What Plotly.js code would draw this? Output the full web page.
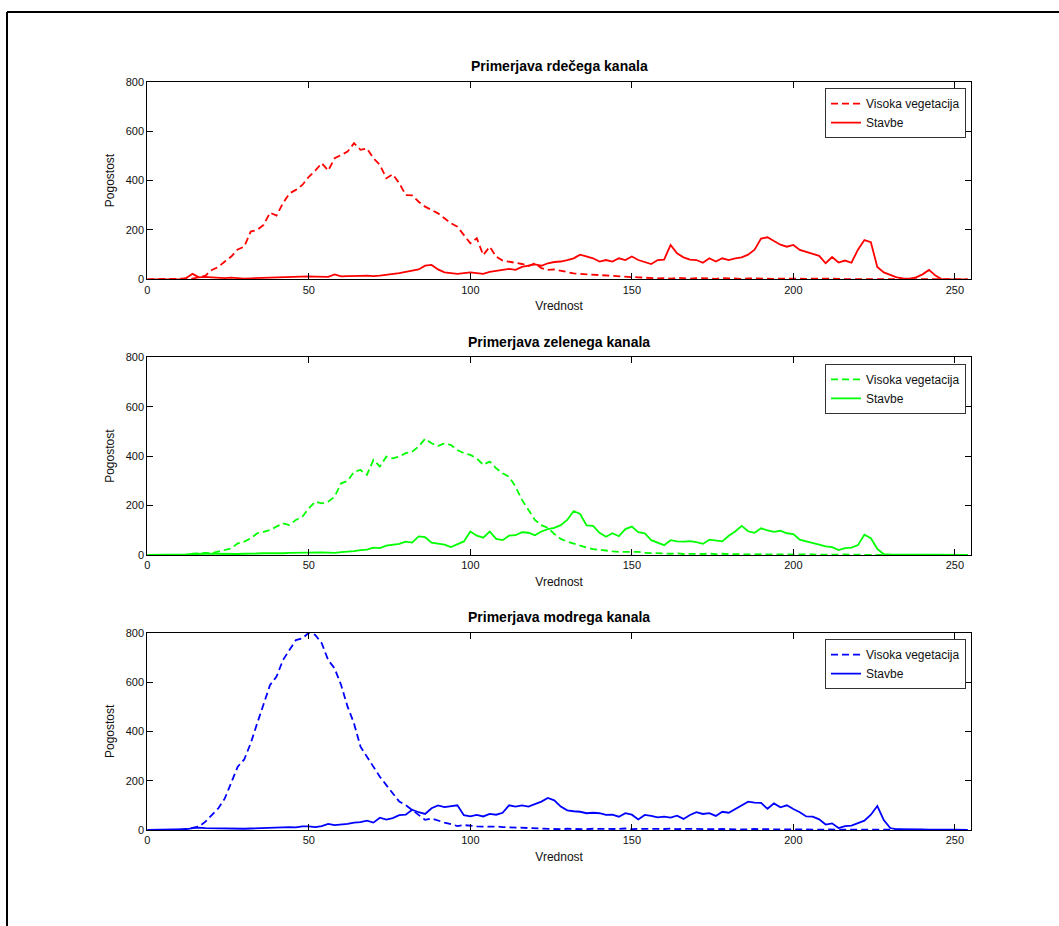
<!DOCTYPE html>
<html>
<head>
<meta charset="utf-8">
<script src="https://cdn.plot.ly/plotly-3.0.1.min.js"></script>
<style>
  html, body { margin: 0; padding: 0; background: #fff; }
  #chart { width: 1059px; height: 926px; }
</style>
</head>
<body>
<div id="chart"></div>
<script>
// Vrednost (pixel value) categories, step 2
const vrednost = [
  0,2,4,6,8,10,12,14,16,18, 20,22,24,26,28,30,32,34,36,38,
  40,42,44,46,48,50,52,54,56,58, 60,62,64,66,68,70,72,74,76,78,
  80,82,84,86,88,90,92,94,96,98, 100,102,104,106,108,110,112,114,116,118,
  120,122,124,126,128,130,132,134,136,138, 140,142,144,146,148,150,152,154,156,158,
  160,162,164,166,168,170,172,174,176,178, 180,182,184,186,188,190,192,194,196,198,
  200,202,204,206,208,210,212,214,216,218, 220,222,224,226,228,230,232,234,236,238,
  240,242,244,246,248,250,252,254
];

// Red channel
const rdeciVegetacija = [
  0,0,0,0,0,0,0,3,8,15,
  38,50,72,92,121,132,193,200,220,270,
  258,308,348,362,382,415,440,470,440,490,
  503,517,551,524,530,490,463,409,425,389,
  341,340,314,294,281,267,247,227,213,180,
  146,166,98,132,92,76,72,65,62,54,
  65,45,38,40,35,27,24,22,20,20,
  16,14,12,12,11,9,8,6,5,4,
  5,3,6,4,3,5,3,4,2,5,
  3,4,2,4,3,2,4,2,3,2,
  3,2,2,3,2,2,1,2,1,2,
  1,1,1,1,0,1,0,0,0,0,
  0,0,0,0,0,0,0,0
];
const rdeciStavbe = [
  0,0,0,0,0,0,5,22,8,10,
  8,6,5,7,5,3,4,5,6,8,
  10,9,11,10,13,12,11,12,10,20,
  12,13,15,14,15,13,15,18,20,25,
  30,35,40,55,58,40,28,25,22,25,
  28,25,22,30,35,40,42,38,50,55,
  60,55,65,70,72,78,85,100,92,85,
  72,78,72,85,78,92,78,70,62,78,
  80,139,105,89,80,78,67,85,72,85,
  78,85,89,100,120,165,170,155,140,132,
  139,119,112,105,95,65,90,68,76,67,
  120,159,150,50,28,18,8,4,3,8,
  20,38,15,0,0,0,0,0
];

// Green channel
const zeleniVegetacija = [
  0,0,0,0,0,0,0,5,8,9,
  7,13,20,27,47,54,67,88,94,101,
  115,128,121,142,155,189,216,209,216,236,
  290,300,337,344,324,385,358,398,391,398,
  412,418,439,470,452,441,452,445,425,412,
  405,391,365,378,351,331,317,277,223,182,
  142,121,110,85,65,54,45,36,30,24,
  20,18,15,13,14,12,13,9,7,8,
  6,5,7,4,6,5,4,6,3,5,
  3,4,3,2,4,3,2,3,2,3,
  2,3,2,2,1,2,2,1,2,1,
  1,1,2,1,1,1,0,1,0,0,
  0,1,0,0,0,1,0,0
];
const zeleniStavbe = [
  0,0,0,0,0,0,2,4,6,5,
  5,4,5,3,4,5,4,6,7,6,
  8,7,9,10,8,12,10,11,10,9,
  12,13,16,20,22,30,28,38,40,45,
  54,50,75,72,50,47,42,32,45,55,
  95,78,70,95,65,60,78,80,92,90,
  80,95,105,110,121,142,178,166,120,118,
  90,74,88,76,105,115,92,88,60,50,
  40,60,55,54,56,52,45,62,58,55,
  78,95,118,96,90,108,100,94,98,88,
  85,62,55,50,42,35,32,20,28,30,
  40,82,68,25,3,2,2,1,2,1,
  2,1,1,2,1,1,1,0
];

// Blue channel
const modriVegetacija = [
  0,0,0,0,0,0,4,9,14,34,
  61,88,128,189,257,286,351,432,514,588,
  622,689,730,770,777,800,791,757,689,655,
  588,500,432,338,297,257,216,182,149,115,
  101,81,61,41,47,38,30,24,16,20,
  16,15,14,15,14,12,11,9,7,8,
  7,6,4,5,3,5,4,6,3,5,
  4,3,5,4,6,3,5,4,3,5,
  4,6,3,5,4,3,5,4,3,4,
  3,4,3,2,4,3,2,4,3,2,
  3,2,2,3,1,2,2,1,2,1,
  1,2,1,1,0,1,1,0,1,0,
  0,1,0,0,1,0,0,0
];
const modriStavbe = [
  0,0,0,0,0,0,3,8,10,8,
  7,6,5,6,5,5,6,7,8,10,
  12,10,12,11,15,15,12,16,25,20,
  22,25,30,32,38,30,50,42,48,60,
  62,82,72,65,88,100,93,95,100,60,
  55,61,55,65,62,70,100,95,100,95,
  105,115,130,120,95,80,76,74,68,70,
  68,61,62,54,68,62,43,61,57,51,
  54,50,58,45,61,72,65,68,57,74,
  70,84,98,115,111,110,86,108,92,100,
  85,72,55,54,43,22,27,8,16,18,
  28,38,62,97,40,8,3,2,2,1,
  2,1,2,1,1,1,0,0
];

const naslovi = ['Primerjava rdečega kanala', 'Primerjava zelenega kanala', 'Primerjava modrega kanala'];
const imenaSerij = ['Visoka vegetacija', 'Stavbe'];
const xTicks = [0, 50, 100, 150, 200, 250];
const yTicks = [0, 200, 400, 600, 800];

const W = 1059, H = 926;
const px = v => v / W;
const py = v => 1 - v / H;

const panels = [
  { veg: rdeciVegetacija, stv: rdeciStavbe, color: '#ff0000', top: 81.7, bottom: 279.3, titleY: 66 },
  { veg: zeleniVegetacija, stv: zeleniStavbe, color: '#00ff00', top: 357.3, bottom: 555, titleY: 342 },
  { veg: modriVegetacija, stv: modriStavbe, color: '#0000ff', top: 632.7, bottom: 830, titleY: 617 }
];

const xL = 147.3, xR = 971;
const font = 'Liberation Sans, Arial, Helvetica, sans-serif';

const traces = [];
const layout = {
  width: W, height: H,
  margin: { l: 0, r: 0, t: 0, b: 0 },
  paper_bgcolor: '#ffffff',
  plot_bgcolor: '#ffffff',
  font: { family: font, size: 11, color: '#000' },
  showlegend: true,
  annotations: [],
  shapes: [
    { type: 'line', xref: 'paper', yref: 'paper', x0: px(7), x1: 1, y0: py(12), y1: py(12), line: { color: '#000', width: 2 } },
    { type: 'line', xref: 'paper', yref: 'paper', x0: px(7), x1: px(7), y0: py(12), y1: 0, line: { color: '#000', width: 2 } }
  ]
};

panels.forEach((p, i) => {
  const n = i === 0 ? '' : String(i + 1);
  const legName = 'legend' + n;
  traces.push({
    x: vrednost, y: p.veg, type: 'scatter', mode: 'lines', name: imenaSerij[0],
    xaxis: 'x' + n, yaxis: 'y' + n, legend: legName,
    line: { color: p.color, width: 1.8, dash: '7px,4px' }
  });
  traces.push({
    x: vrednost, y: p.stv, type: 'scatter', mode: 'lines', name: imenaSerij[1],
    xaxis: 'x' + n, yaxis: 'y' + n, legend: legName,
    line: { color: p.color, width: 1.8 }
  });
  layout['xaxis' + n] = {
    domain: [px(xL), px(xR)], anchor: 'y' + n, range: [0, 255],
    tickvals: xTicks, ticks: 'inside', ticklen: 6, tickcolor: '#000', tickwidth: 1,
    showline: true, linecolor: '#000', linewidth: 1, mirror: 'ticks',
    showgrid: false, zeroline: false, fixedrange: true,
    tickfont: { family: font, size: 11, color: '#111' },
    title: { text: 'Vrednost', font: { family: font, size: 12, color: '#111' }, standoff: 7 },
    automargin: false
  };
  layout['yaxis' + n] = {
    domain: [py(p.bottom), py(p.top)], anchor: 'x' + n, range: [0, 800],
    tickvals: yTicks, ticks: 'inside', ticklen: 6, tickcolor: '#000', tickwidth: 1,
    showline: true, linecolor: '#000', linewidth: 1, mirror: 'ticks',
    showgrid: false, zeroline: false, fixedrange: true,
    tickfont: { family: font, size: 11, color: '#111' },
    title: { text: 'Pogostost', font: { family: font, size: 12, color: '#111' }, standoff: 8 },
    automargin: false
  };
  layout[legName] = {
    x: px(966), xanchor: 'right', y: py(p.top + 6.5), yanchor: 'top',
    bgcolor: '#ffffff', bordercolor: '#333', borderwidth: 1,
    font: { family: font, size: 12, color: '#111' },
    tracegroupgap: 0, itemwidth: 30
  };
  layout.annotations.push({
    text: '<b>' + naslovi[i] + '</b>', xref: 'paper', yref: 'paper',
    x: px((xL + xR) / 2), y: py(p.titleY), xanchor: 'center', yanchor: 'middle',
    showarrow: false, font: { family: font, size: 14, color: '#000' }
  });
});

Plotly.newPlot('chart', traces, layout, { displayModeBar: false, staticPlot: true });
</script>
</body>
</html>
